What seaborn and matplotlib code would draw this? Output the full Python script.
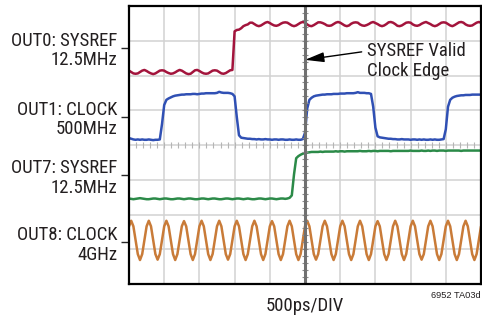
import numpy as np
import pandas as pd
import matplotlib
matplotlib.use("Agg")
import matplotlib.pyplot as plt
import seaborn as sns

# scope capture, time in divisions (500ps/DIV), one sample every 1/16 div
t = np.linspace(0, 10, 161)

channels = ["OUT0: SYSREF\n12.5MHz", "OUT1: CLOCK\n500MHz",
            "OUT7: SYSREF\n12.5MHz", "OUT8: CLOCK\n4GHz"]
colors = ["#a3143c", "#3050b4", "#2b8a48", "#c97b38"]
# trace reference markers on the left edge (divisions)
ref_levels = [6.79, 4.82, 3.13, 1.20]

out0 = [
    6.14, 6.10, 6.06, 6.05, 6.06, 6.10, 6.14, 6.16,
    6.13, 6.09, 6.06, 6.04, 6.06, 6.10, 6.14, 6.15,
    6.14, 6.10, 6.07, 6.05, 6.06, 6.09, 6.13, 6.16,
    6.14, 6.10, 6.06, 6.04, 6.05, 6.10, 6.15, 6.16,
    6.13, 6.09, 6.06, 6.05, 6.06, 6.10, 6.14, 6.15,
    6.14, 6.10, 6.06, 6.05, 6.07, 6.11, 6.15, 6.16,
    7.27, 7.31, 7.32, 7.36, 7.42, 7.45, 7.47, 7.52,
    7.52, 7.48, 7.44, 7.42, 7.44, 7.48, 7.52, 7.54,
    7.51, 7.47, 7.44, 7.43, 7.45, 7.49, 7.52, 7.53,
    7.52, 7.48, 7.44, 7.42, 7.44, 7.48, 7.52, 7.54,
    7.52, 7.47, 7.43, 7.42, 7.45, 7.49, 7.53, 7.53,
    7.51, 7.48, 7.44, 7.43, 7.44, 7.48, 7.52, 7.54,
    7.52, 7.48, 7.44, 7.42, 7.44, 7.49, 7.52, 7.53,
    7.52, 7.47, 7.44, 7.43, 7.45, 7.48, 7.52, 7.54,
    7.51, 7.48, 7.44, 7.42, 7.44, 7.48, 7.53, 7.54,
    7.52, 7.48, 7.43, 7.42, 7.44, 7.48, 7.52, 7.53,
    7.52, 7.47, 7.44, 7.43, 7.45, 7.49, 7.52, 7.54,
    7.51, 7.48, 7.44, 7.42, 7.44, 7.48, 7.52, 7.53,
    7.52, 7.48, 7.44, 7.42, 7.45, 7.49, 7.53, 7.54,
    7.52, 7.47, 7.44, 7.43, 7.44, 7.48, 7.52, 7.54,
    7.52,
]

out1 = [
    4.20, 4.18, 4.16, 4.15, 4.16, 4.15, 4.16, 4.15, 4.15, 4.16, 4.15, 4.14, 4.15, 4.15, 4.16,
    4.60, 5.15, 5.30, 5.34, 5.37, 5.40, 5.42, 5.43, 5.44, 5.45, 5.45, 5.46, 5.46, 5.46, 5.47, 5.47,
    5.46, 5.47, 5.48, 5.48, 5.49, 5.49, 5.49, 5.49, 5.49, 5.50, 5.53, 5.51, 5.50, 5.50, 5.50, 5.49, 5.47,
    5.40, 4.80, 4.28, 4.21, 4.20, 4.19, 4.18, 4.18, 4.17, 4.17, 4.16, 4.17, 4.16, 4.16, 4.17, 4.16,
    4.16, 4.15, 4.16, 4.16, 4.15, 4.16, 4.16, 4.15, 4.15, 4.16, 4.15, 4.15, 4.16, 4.15, 4.15, 4.17,
    4.35, 5.05, 5.30, 5.36, 5.40, 5.42, 5.43, 5.44, 5.45, 5.45, 5.46, 5.46, 5.46, 5.47, 5.47,
    5.47, 5.48, 5.48, 5.48, 5.49, 5.49, 5.49, 5.49, 5.50, 5.52, 5.50, 5.50, 5.50, 5.49, 5.49, 5.47,
    5.10, 4.50, 4.25, 4.22, 4.21, 4.20, 4.19, 4.18, 4.18, 4.17, 4.17, 4.16, 4.16, 4.17, 4.16,
    4.16, 4.16, 4.15, 4.16, 4.16, 4.15, 4.16, 4.15, 4.16, 4.15, 4.15, 4.16, 4.15, 4.16, 4.15,
    4.15, 4.16, 4.17,
    4.45, 5.10, 5.30, 5.36, 5.39, 5.41, 5.42, 5.43, 5.43, 5.44, 5.44, 5.44, 5.45, 5.45, 5.45,
    5.45, 5.45,
]

out7 = [
    2.46, 2.45, 2.44, 2.45, 2.46, 2.47, 2.46, 2.45,
    2.44, 2.44, 2.45, 2.46, 2.46, 2.45, 2.44, 2.45,
    2.46, 2.46, 2.45, 2.44, 2.44, 2.45, 2.46, 2.46,
    2.45, 2.44, 2.45, 2.46, 2.46, 2.45, 2.44, 2.44,
    2.45, 2.46, 2.46, 2.45, 2.44, 2.45, 2.46, 2.46,
    2.45, 2.44, 2.44, 2.45, 2.46, 2.46, 2.45, 2.44,
    2.45, 2.46, 2.46, 2.45, 2.44, 2.45, 2.46, 2.45,
    2.44, 2.44, 2.45, 2.46, 2.46, 2.45, 2.44, 2.45,
    2.46, 2.46, 2.45, 2.44, 2.45, 2.46, 2.46, 2.45,
    2.46, 2.48,
    2.55, 3.15, 3.62, 3.68, 3.72, 3.75, 3.77, 3.78, 3.79, 3.80,
    3.80, 3.80, 3.80, 3.81, 3.80, 3.81, 3.81, 3.81,
    3.81, 3.81, 3.82, 3.81, 3.82, 3.82, 3.81, 3.82,
    3.82, 3.82, 3.82, 3.82, 3.82, 3.83, 3.82, 3.82,
    3.82, 3.83, 3.82, 3.83, 3.83, 3.82, 3.83, 3.83,
    3.83, 3.83, 3.83, 3.82, 3.83, 3.83, 3.83, 3.83,
    3.83, 3.83, 3.83, 3.83, 3.84, 3.83, 3.83, 3.83,
    3.83, 3.84, 3.83, 3.83, 3.84, 3.83, 3.84, 3.84,
    3.83, 3.84, 3.84, 3.84, 3.83, 3.84, 3.84, 3.84,
    3.84, 3.84, 3.84, 3.83, 3.84, 3.84, 3.84, 3.84,
    3.84, 3.84, 3.84, 3.84, 3.84,
]

out8 = [
    1.66,
    1.82, 1.66, 1.26, 0.86, 0.69, 0.86, 1.26, 1.66,
    1.82, 1.66, 1.26, 0.86, 0.70, 0.86, 1.26, 1.66,
    1.82, 1.66, 1.26, 0.86, 0.69, 0.86, 1.26, 1.66,
    1.81, 1.66, 1.26, 0.86, 0.69, 0.86, 1.26, 1.66,
    1.82, 1.66, 1.26, 0.86, 0.69, 0.86, 1.26, 1.66,
    1.82, 1.66, 1.26, 0.86, 0.70, 0.86, 1.26, 1.66,
    1.82, 1.66, 1.26, 0.86, 0.69, 0.86, 1.26, 1.66,
    1.82, 1.66, 1.26, 0.86, 0.69, 0.86, 1.26, 1.66,
    1.81, 1.66, 1.26, 0.86, 0.69, 0.86, 1.26, 1.66,
    1.82, 1.66, 1.26, 0.86, 0.69, 0.86, 1.26, 1.66,
    1.82, 1.66, 1.26, 0.86, 0.70, 0.86, 1.26, 1.66,
    1.82, 1.66, 1.26, 0.86, 0.69, 0.86, 1.26, 1.66,
    1.82, 1.66, 1.26, 0.86, 0.69, 0.86, 1.26, 1.66,
    1.82, 1.66, 1.26, 0.86, 0.69, 0.86, 1.26, 1.66,
    1.81, 1.66, 1.26, 0.86, 0.69, 0.86, 1.26, 1.66,
    1.82, 1.66, 1.26, 0.86, 0.69, 0.86, 1.26, 1.66,
    1.82, 1.66, 1.26, 0.86, 0.70, 0.86, 1.26, 1.66,
    1.82, 1.66, 1.26, 0.86, 0.69, 0.86, 1.26, 1.66,
    1.82, 1.66, 1.26, 0.86, 0.69, 0.86, 1.26, 1.66,
    1.82, 1.66, 1.26, 0.86, 0.69, 0.86, 1.26, 1.66,
]

df = pd.DataFrame({
    "t": np.tile(t, 4),
    "v": out0 + out1 + out7 + out8,
    "ch": np.repeat(channels, len(t)),
})

sns.set_style("white")
# condensed sans like the original scope shot
plt.rcParams["font.family"] = ["Roboto Condensed", "Liberation Sans", "DejaVu Sans"]
txt_col = "#231f20"

fig = plt.figure(figsize=(4.82, 3.2), dpi=100)
ax = fig.add_axes([129 / 482, 36 / 320, 352 / 482, 278 / 320])

sns.lineplot(data=df, x="t", y="v", hue="ch", palette=colors, hue_order=channels,
             legend=False, estimator=None, sort=False, lw=1.8, ax=ax, zorder=2)

ax.set_xlim(0, 10)
ax.set_ylim(0, 8)
ax.set_xlabel("")
ax.set_ylabel("")

# graticule
ax.set_xticks(np.arange(0, 11))
ax.set_yticks(np.arange(0, 9), minor=True)
ax.grid(which="major", axis="x", color="#d2d2d2", lw=1.1, zorder=0)
ax.grid(which="minor", axis="y", color="#d2d2d2", lw=1.1, zorder=0)
ax.tick_params(axis="x", length=0, labelbottom=False)
ax.tick_params(axis="y", which="minor", length=0)

# small ticks on the centre lines
sub = np.arange(0, 10.01, 0.2)
ax.plot(sub, np.full_like(sub, 4.0), ls="none", marker="|", ms=4, mew=0.8, color="#b5b5b5", zorder=1)
subv = np.arange(0, 8.01, 0.2)
ax.plot(np.full_like(subv, 5.0), subv, ls="none", marker="_", ms=5, mew=0.8, color="#8a8a8a", zorder=3)
ax.axvline(5.0, color="#707070", lw=2.2, zorder=3)

# channel labels with coloured reference markers
ax.set_yticks(ref_levels)
ax.set_yticklabels(channels, fontsize=13.5, color=txt_col, linespacing=1.1)
ax.tick_params(axis="y", which="major", length=5.5, width=1.0, pad=3, direction="out", left=True)
for tick, c in zip(ax.yaxis.get_major_ticks(), colors):
    tick.tick1line.set_color(c)

for s in ax.spines.values():
    s.set_visible(True)
    s.set_color("black")
    s.set_linewidth(1.6)
    s.set_zorder(4)

ax.annotate("", xy=(5.0, 6.45), xytext=(6.61, 6.68),
            arrowprops=dict(arrowstyle="-|>,head_length=1.15,head_width=0.3",
                            color="black", lw=1.0, shrinkA=0, shrinkB=0), zorder=5)
ax.text(6.76, 6.42, "SYSREF Valid\nClock Edge", ha="left", va="center",
        fontsize=13.5, color=txt_col, linespacing=1.1)

fig.text(305 / 482, 1 - 306 / 320, "500ps/DIV", ha="center", va="center",
         fontsize=13.5, color=txt_col)
fig.text(481 / 482, 1 - 296 / 320, "6952 TA03d", ha="right", va="center",
         fontsize=6.7, color=txt_col, family=["Liberation Sans", "DejaVu Sans"])

fig.savefig("out.png", dpi=100)
